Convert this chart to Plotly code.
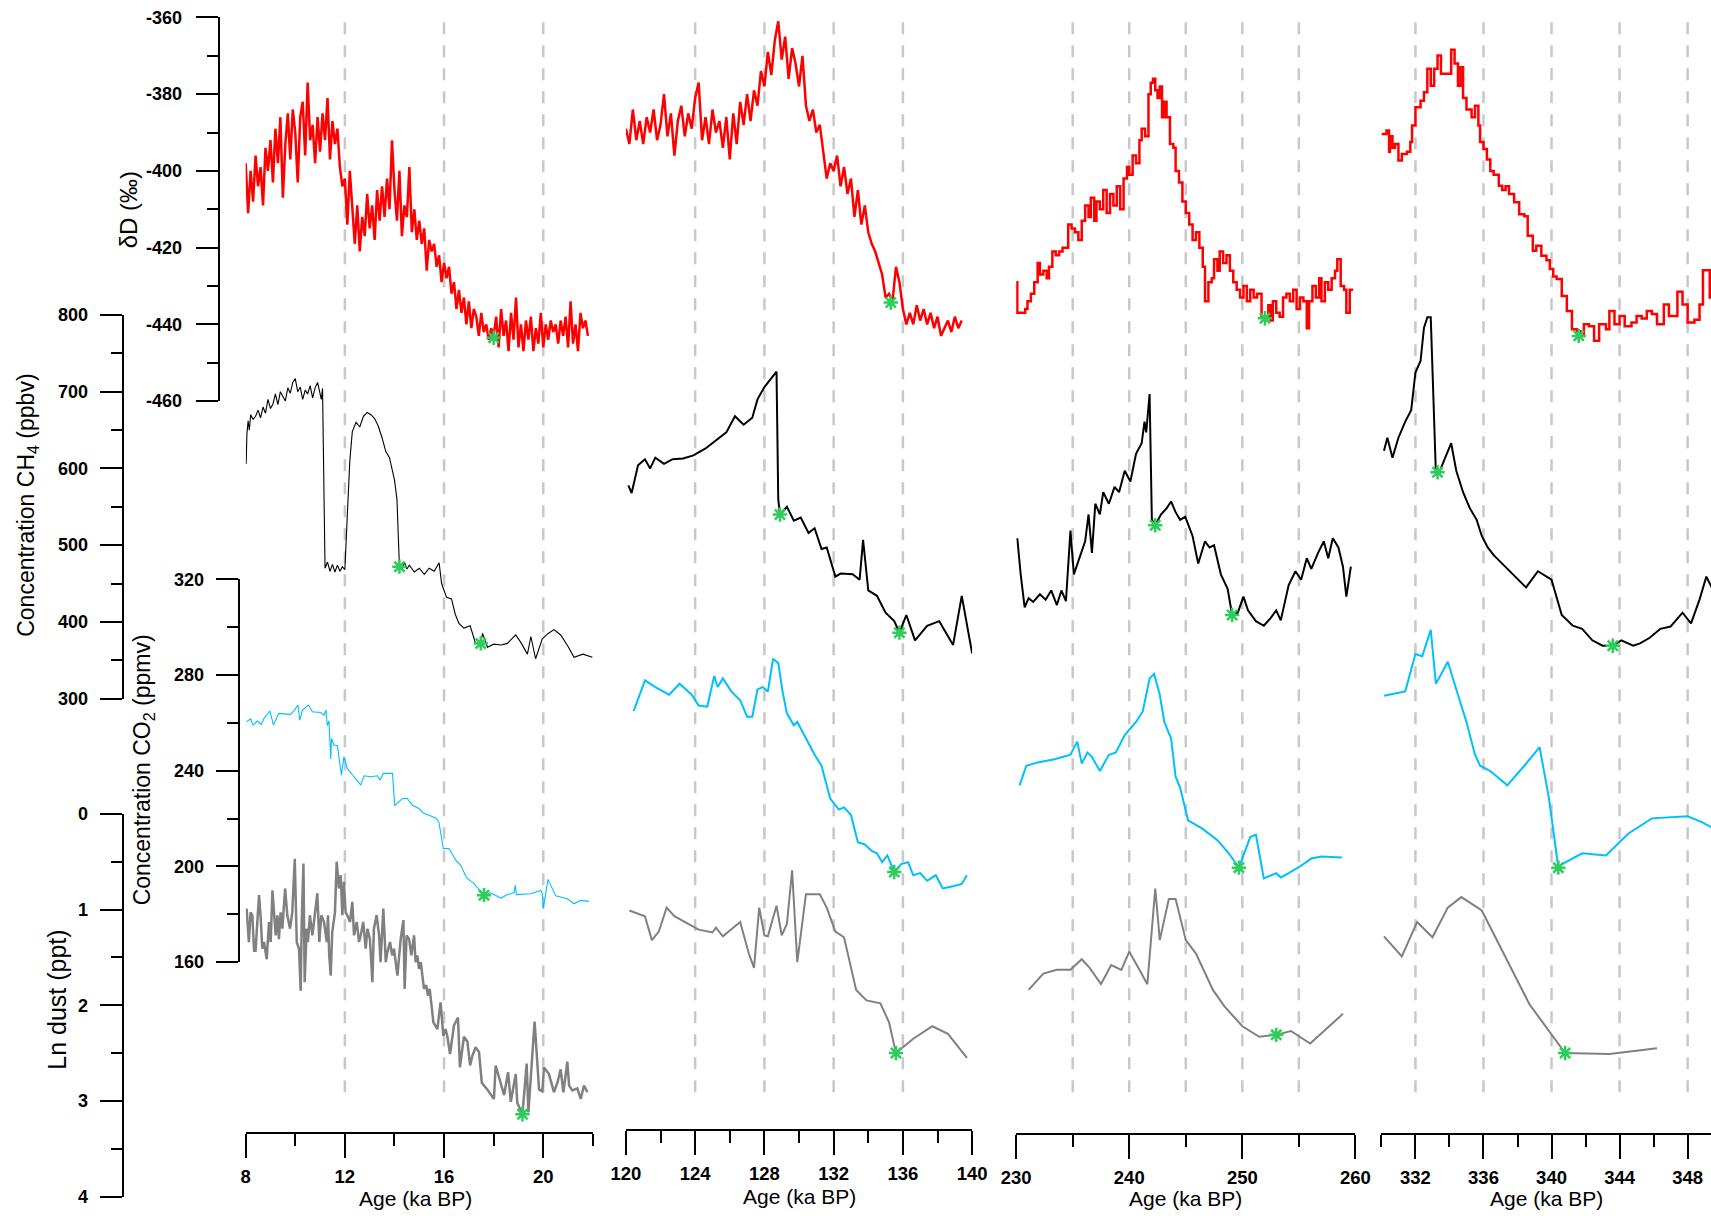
import plotly.graph_objects as go

# target layout is described in page pixels (1711 x 1218); the figure itself is
# laid out on a slightly larger canvas that the page then fits into that frame
PAGE_W, PAGE_H = 1711, 1218
FIT = 0.982
OFF_X, OFF_Y = 14.5, 9.6
W, H = 1730, 1233

# ---------------- deuterium (δD, ‰) ----------------
dd1_age = [8.0, 8.1, 8.2, 8.3, 8.4, 8.5, 8.6, 8.7, 8.8, 8.9,
           9.0, 9.1, 9.2, 9.3, 9.4, 9.5, 9.6, 9.7, 9.8, 9.9,
           10.0, 10.1, 10.2, 10.3, 10.4, 10.5, 10.6, 10.7, 10.8, 10.9,
           11.0, 11.1, 11.2, 11.3, 11.4, 11.5, 11.6, 11.7, 11.8, 11.9,
           12.0, 12.1, 12.2, 12.3, 12.4, 12.5, 12.6, 12.7, 12.8, 12.9,
           13.0, 13.1, 13.2, 13.3, 13.4, 13.5, 13.6, 13.7, 13.8, 13.9,
           14.0, 14.1, 14.2, 14.3, 14.4, 14.5, 14.6, 14.7, 14.8, 14.9,
           15.0, 15.1, 15.2, 15.3, 15.4, 15.5, 15.6, 15.7, 15.8, 15.9,
           16.0, 16.1, 16.2, 16.3, 16.4, 16.5, 16.6, 16.7, 16.8, 16.9,
           17.0, 17.1, 17.2, 17.3, 17.4, 17.5, 17.6, 17.7, 17.8, 17.9,
           18.0, 18.1, 18.2, 18.3, 18.4, 18.5, 18.6, 18.7, 18.8, 18.9,
           19.0, 19.1, 19.2, 19.3, 19.4, 19.5, 19.6, 19.7, 19.8, 19.9,
           20.0, 20.1, 20.2, 20.3, 20.4, 20.5, 20.6, 20.7, 20.8, 20.9,
           21.0, 21.1, 21.2, 21.3, 21.4, 21.5, 21.6, 21.7, 21.8]
dd1_val = [-398, -411, -400, -408, -396, -404, -399, -409, -394, -400,
           -392, -403, -389, -398, -386, -407, -393, -385, -397, -384,
           -390, -403, -386, -382, -396, -377, -392, -388, -398, -386,
           -395, -385, -392, -381, -397, -387, -393, -389, -399, -404,
           -402, -414, -400, -411, -419, -409, -421, -412, -417, -406,
           -415, -409, -418, -405, -413, -404, -412, -402, -410, -392,
           -405, -413, -400, -417, -409, -412, -399, -416, -410, -418,
           -413, -419, -415, -426, -418, -421, -419, -425, -422, -429,
           -424, -428, -425, -432, -429, -436, -431, -437, -433, -440,
           -434, -441, -436, -438, -443, -437, -442, -440, -444, -441,
           -443, -438, -446, -436, -443, -439, -447, -437, -444, -433,
           -446, -440, -447, -439, -444, -438, -447, -441, -445, -437,
           -446, -440, -444, -439, -442, -440, -445, -439, -443, -438,
           -446, -434, -445, -440, -447, -437, -441, -439, -443]

dd2_age = [120.0, 120.2, 120.4, 120.6, 120.8, 121.0, 121.2, 121.4, 121.6, 121.8,
           122.0, 122.2, 122.4, 122.6, 122.8, 123.0, 123.2, 123.4, 123.6, 123.8,
           124.0, 124.2, 124.4, 124.6, 124.8, 125.0, 125.2, 125.4, 125.6, 125.8,
           126.0, 126.2, 126.4, 126.6, 126.8, 127.0, 127.2, 127.4, 127.6, 127.8,
           128.0, 128.2, 128.4, 128.6, 128.8, 129.0, 129.2, 129.4, 129.6, 129.8,
           130.0, 130.2, 130.4, 130.6, 130.8, 131.0, 131.2, 131.4, 131.6, 131.8,
           132.0, 132.2, 132.4, 132.6, 132.8, 133.0, 133.2, 133.4, 133.6, 133.8,
           134.0, 134.2, 134.4, 134.6, 134.8, 135.0, 135.2, 135.4, 135.6, 135.8,
           136.0, 136.2, 136.4, 136.6, 136.8, 137.0, 137.2, 137.4, 137.6, 137.8,
           138.0, 138.2, 138.4, 138.6, 138.8, 139.0, 139.2, 139.4]
dd2_val = [-389, -393, -384, -392, -387, -393, -386, -390, -384, -392,
           -388, -380, -391, -385, -396, -387, -383, -391, -385, -389,
           -381, -377, -392, -386, -393, -384, -390, -387, -394, -386,
           -397, -385, -393, -382, -388, -380, -387, -379, -383, -374,
           -378, -369, -375, -366, -361, -371, -365, -376, -368, -372,
           -378, -370, -383, -387, -384, -390, -388, -395, -402, -398,
           -400, -396, -404, -399, -406, -402, -412, -405, -414, -409,
           -416, -419, -421, -424, -427, -433, -432, -434, -425, -429,
           -436, -440, -437, -440, -435, -439, -436, -440, -437, -441,
           -438, -443, -441, -439, -442, -438, -441, -439]

dd3_age = [230.0, 230.1, 230.5, 230.8, 231.0, 231.3, 231.6, 231.9, 232.1, 232.4,
           232.7, 232.9, 233.2, 233.5, 233.8, 234.1, 234.4, 234.6, 234.9, 235.2,
           235.5, 235.8, 236.1, 236.4, 236.6, 236.9, 237.1, 237.4, 237.7, 238.0,
           238.3, 238.6, 238.9, 239.2, 239.5, 239.8, 240.0, 240.3, 240.6, 240.9,
           241.1, 241.4, 241.7, 241.9, 242.1, 242.3, 242.5, 242.7, 242.9, 243.1,
           243.3, 243.6, 243.9, 244.1, 244.4, 244.7, 245.0, 245.3, 245.6, 245.9,
           246.2, 246.5, 246.7, 247.0, 247.3, 247.5, 247.8, 248.0, 248.3, 248.6,
           248.9, 249.2, 249.5, 249.8, 250.1, 250.4, 250.7, 251.0, 251.3, 251.7,
           252.0, 252.3, 252.5, 252.7, 253.0, 253.3, 253.6, 253.9, 254.2, 254.5,
           254.8, 255.1, 255.4, 255.7, 255.9, 256.2, 256.5, 256.8, 257.0, 257.3,
           257.6, 257.9, 258.2, 258.4, 258.7, 259.0, 259.2, 259.5, 259.8]
dd3_val = [-429, -437, -437, -436, -434, -432, -429, -424, -427, -426,
           -428, -425, -421, -422, -421, -420, -420, -414, -415, -416,
           -418, -413, -409, -412, -407, -413, -408, -410, -405, -411,
           -406, -409, -404, -410, -402, -399, -401, -396, -398, -392,
           -389, -391, -380, -377, -376, -379, -381, -378, -386, -382,
           -386, -393, -394, -400, -403, -408, -411, -414, -418, -416,
           -420, -425, -434, -429, -428, -423, -426, -421, -424, -422,
           -426, -429, -431, -433, -430, -434, -431, -433, -432, -438,
           -438, -435, -439, -434, -437, -438, -433, -432, -434, -431,
           -436, -433, -434, -441, -434, -430, -433, -428, -434, -429,
           -431, -428, -426, -423, -430, -431, -437, -431, -431]

dd4_age = [330.0, 330.3, 330.45, 330.5, 330.65, 330.8, 331.0, 331.2, 331.5, 331.7,
           331.8, 332.0, 332.3, 332.5, 332.7, 332.9, 333.1, 333.3, 333.5, 333.8,
           334.1, 334.3, 334.5, 334.65, 334.8, 335.0, 335.3, 335.5, 335.7, 335.8,
           336.0, 336.2, 336.4, 336.6, 336.9, 337.1, 337.3, 337.5, 337.8, 338.1,
           338.4, 338.6, 338.9, 339.1, 339.4, 339.7, 339.9, 340.1, 340.3, 340.6,
           340.9, 341.2, 341.5, 341.7, 341.9, 342.2, 342.5, 342.8, 343.2, 343.4,
           343.7, 344.0, 344.3, 344.7, 345.0, 345.3, 345.6, 345.9, 346.2, 346.6,
           346.9, 347.4, 347.7, 348.0, 348.4, 348.7, 348.9, 349.3, 349.6]
dd4_val = [-390.4, -389.5, -395.0, -391.0, -394.0, -393.0, -397.3, -395.6, -395.0, -392.5,
           -388.2, -383.4, -381.7, -379.5, -373.4, -377.8, -373.4, -369.9, -374.7, -374.7,
           -368.4, -372.0, -377.8, -373.0, -381.0, -384.0, -386.0, -383.0, -388.2, -392.5,
           -394.3, -397.0, -400.0, -401.0, -403.9, -405.0, -404.0, -406.0, -408.2, -411.3,
           -411.8, -416.9, -420.8, -419.5, -422.1, -423.3, -425.6, -427.5, -428.2, -432.6,
           -436.5, -441.3, -441.8, -443.0, -440.0, -440.5, -444.3, -440.0, -441.3, -436.5,
           -440.0, -437.8, -440.5, -439.5, -437.8, -438.5, -436.5, -437.3, -440.0, -434.8,
           -437.8, -431.5, -434.8, -439.5, -438.8, -434.8, -425.9, -433.0, -433.0]

# ---------------- methane (ppbv) ----------------
ch1_age = [8.02, 8.05, 8.1, 8.15, 8.2, 8.3, 8.4, 8.5, 8.6, 8.7, 8.8, 8.9, 9.0, 9.1, 9.2,
           9.3, 9.4, 9.5, 9.6, 9.7, 9.8, 9.9, 10.0, 10.1, 10.2, 10.3, 10.4, 10.5, 10.6,
           10.7, 10.8, 10.9, 11.0, 11.05, 11.1, 11.15, 11.2, 11.3, 11.4, 11.5, 11.6, 11.7,
           11.8, 11.9, 12.0, 12.1, 12.2, 12.3, 12.45, 12.6, 12.75, 12.9, 13.05, 13.2, 13.35,
           13.5, 13.65, 13.8, 13.9, 14.0, 14.1, 14.2, 14.3, 14.4, 14.5, 14.6, 14.8, 15.0,
           15.2, 15.4, 15.6, 15.8, 15.9, 16.0, 16.1, 16.3, 16.45, 16.6, 16.8, 17.05, 17.27,
           17.48, 17.55, 17.75, 18.0, 18.3, 18.55, 18.89, 19.1, 19.36, 19.5, 19.69, 19.96,
           20.2, 20.43, 20.7, 21.0, 21.24, 21.6, 21.98]
ch1_val = [606, 645, 662, 650, 670, 664, 668, 676, 666, 680, 672, 690, 678, 684, 697,
           683, 700, 694, 688, 705, 698, 712, 717, 700, 706, 690, 702, 697, 708,
           692, 705, 712, 698, 690, 704, 560, 470, 478, 466, 475, 465, 474,
           466, 472, 468, 540, 610, 648, 660, 654, 668, 673, 670, 665, 655,
           640, 622, 614, 600, 585, 560, 472, 468, 478, 469, 474, 465, 470,
           462, 470, 466, 477, 450, 440, 432, 430, 410, 398, 392, 395, 372,
           372, 385, 367, 371, 370, 372, 383, 373, 358, 381, 352, 378,
           385, 390, 383, 368, 354, 358, 354]

ch2_age = [120.14, 120.33, 120.7, 121.1, 121.4, 121.7, 122.2, 122.7, 123.3, 123.9,
           124.6, 125.2, 125.8, 126.3, 126.8, 127.3, 127.6, 128.0, 128.4, 128.7,
           128.8, 128.9, 129.3, 129.7, 130.1, 130.55, 130.9, 131.3, 131.6, 132.1,
           132.4, 133.1, 133.5, 133.7, 134.0, 134.5, 135.0, 135.5, 135.8, 136.2,
           136.7, 137.4, 138.1, 138.9, 139.4, 140.0]
ch2_val = [578, 568, 604, 612, 600, 614, 606, 612, 613, 617,
           626, 636, 647, 668, 657, 666, 690, 706, 718, 726,
           560, 540, 550, 532, 536, 516, 522, 495, 497, 459,
           463, 462, 455, 507, 441, 434, 412, 401, 386, 409,
           376, 395, 401, 370, 434, 359]

ch3_age = [230.1, 230.4, 230.75, 231.1, 231.5, 232.1, 232.6, 233.1, 233.6, 234.0,
           234.4, 234.8, 235.1, 235.6, 236.1, 236.4, 236.7, 237.0, 237.4, 237.7,
           238.2, 238.7, 239.1, 239.6, 240.1, 240.6, 241.1, 241.35, 241.5, 241.8,
           242.0, 242.3, 242.8, 243.3, 243.7, 244.1, 244.5, 244.95, 245.6, 246.1,
           246.7, 247.1, 247.5, 248.1, 248.7, 249.1, 249.6, 250.1, 250.5, 251.2,
           251.9, 252.5, 253.0, 253.4, 254.1, 254.7, 255.2, 255.7, 256.1, 256.7,
           257.2, 257.6, 258.0, 258.5, 258.9, 259.2, 259.6]
ch3_val = [509, 462, 419, 431, 426, 436, 429, 441, 422, 441,
           427, 519, 462, 483, 505, 540, 490, 554, 540, 569,
           554, 576, 569, 597, 583, 619, 633, 661, 647, 697,
           533, 526, 540, 548, 557, 543, 533, 537, 512, 476,
           505, 497, 500, 462, 443, 409, 412, 433, 415, 401,
           395, 405, 415, 402, 448, 466, 455, 483, 469, 490,
           505, 483, 509, 497, 472, 433, 472]

ch4_age = [330.15, 330.35, 330.65, 331.0, 331.4, 331.75, 332.0, 332.3, 332.5, 332.7,
           332.9, 333.2, 333.4, 333.7, 334.1, 334.4, 334.8, 335.2, 335.6, 335.9,
           336.25, 336.6, 337.1, 337.5, 338.0, 338.5, 339.2, 340.0, 340.6, 341.25,
           341.8, 342.4, 343.0, 343.6, 344.1, 344.8, 345.2, 345.75, 346.4, 347.0,
           347.7, 348.2, 348.7, 349.1, 349.5]
ch4_val = [623, 640, 614, 640, 661, 676, 725, 740, 783, 797,
           797, 595, 595, 612, 633, 597, 569, 548, 533, 512,
           497, 487, 476, 466, 455, 445, 466, 455, 409, 395,
           391, 376, 369, 369, 376, 369, 372, 379, 391, 394,
           412, 398, 429, 459, 441]

# ---------------- carbon dioxide (ppmv) ----------------
co1_age = [8.04, 8.2, 8.3, 8.47, 8.63, 8.74, 8.98, 9.12, 9.34, 9.81, 9.95, 10.11,
           10.18, 10.29, 10.53, 10.69, 11.02, 11.16, 11.24, 11.29, 11.36, 11.43,
           11.46, 11.56, 11.7, 11.76, 11.86, 11.96, 12.1, 12.37, 12.64, 12.77,
           13.04, 13.31, 13.42, 13.55, 13.92, 14.01, 14.32, 14.52, 14.72, 14.99,
           15.19, 15.39, 15.66, 15.79, 15.97, 16.2, 16.47, 16.67, 16.91, 17.21,
           17.61, 17.88, 18.28, 18.55, 18.82, 18.87, 18.92, 19.49, 19.9, 19.96,
           20.0, 20.19, 20.5, 20.97, 21.24, 21.51, 21.84]
co1_val = [260.5, 261.7, 259.1, 260.8, 259.4, 261.9, 265.0, 259.1, 264.0, 263.6, 265.0, 267.5,
           261.2, 265.4, 267.5, 264.7, 264.4, 263.3, 265.4, 258.9, 260.8, 244.9,
           253.5, 250.8, 250.5, 246.6, 238.2, 245.9, 241.0, 237.5, 234.0, 237.9,
           237.5, 237.9, 236.1, 238.9, 238.9, 225.4, 228.4, 228.4, 225.6, 224.2,
           222.1, 221.4, 220.3, 218.6, 207.5, 207.5, 202.6, 200.5, 195.2, 192.8,
           188.0, 189.0, 186.8, 188.2, 189.0, 192.1, 188.2, 188.6, 190.0, 188.6,
           182.4, 194.6, 187.7, 186.5, 184.4, 185.8, 185.4]

co2_age = [120.45, 121.1, 121.7, 122.5, 123.1, 123.8, 124.2, 124.7, 125.1, 125.3,
           125.6, 126.1, 126.6, 127.0, 127.3, 127.6, 127.9, 128.2, 128.5, 128.8,
           129.05, 129.3, 129.7, 129.9, 130.9, 131.3, 131.8, 132.3, 132.6, 133.0,
           133.4, 133.8, 134.2, 134.5, 134.8, 135.1, 135.5, 135.9, 136.3, 136.6,
           137.0, 137.4, 137.9, 138.3, 138.9, 139.4, 139.7]
co2_val = [265.0, 277.8, 275.0, 271.8, 276.4, 271.8, 267.3, 266.8, 279.6, 275.0,
           278.6, 273.1, 269.5, 262.6, 262.6, 274.0, 275.0, 273.1, 286.8, 285.0,
           273.1, 264.0, 259.0, 260.4, 246.7, 242.1, 228.4, 223.8, 224.7, 221.5,
           210.1, 209.2, 206.5, 205.5, 201.8, 204.6, 197.7, 201.0, 201.8, 196.3,
           197.2, 194.0, 196.3, 190.8, 191.7, 192.7, 196.3]

co3_age = [230.3, 230.9, 231.9, 233.4, 234.8, 235.4, 235.8, 236.3, 236.7, 237.4,
           238.2, 238.8, 239.6, 240.6, 241.2, 241.8, 242.2, 242.7, 243.1, 243.7,
           244.1, 244.5, 245.2, 246.4, 247.8, 248.8, 249.7, 250.7, 251.2, 251.9,
           253.0, 253.4, 254.1, 255.1, 256.1, 257.0, 258.8]
co3_val = [233.9, 242.1, 243.5, 244.8, 246.7, 252.2, 243.0, 247.6, 245.8, 239.9,
           246.7, 247.6, 254.9, 260.4, 264.9, 278.6, 280.5, 271.8, 260.4, 253.5,
           237.5, 233.0, 219.3, 216.0, 211.0, 205.5, 199.5, 212.3, 213.3, 195.0,
           197.2, 195.4, 197.2, 200.0, 203.3, 204.2, 203.7]

co4_age = [330.15, 331.4, 332.0, 332.4, 332.9, 333.2, 333.55, 333.9, 334.5, 335.0,
           335.5, 335.8, 336.4, 337.4, 338.4, 339.3, 339.85, 340.4, 340.6, 341.8,
           343.2, 344.5, 345.9, 348.0, 348.9, 349.5]
co4_val = [271.4, 273.2, 288.8, 287.9, 298.9, 276.4, 280.9, 285.6, 271.8, 260.4,
           246.7, 242.1, 239.9, 233.9, 242.1, 249.9, 228.4, 199.5, 200.9, 205.5,
           204.6, 213.7, 220.1, 221.0, 218.3, 216.0]

# ---------------- dust (ln ppt) ----------------
du1_age = [8.04, 8.07, 8.13, 8.2, 8.27, 8.34, 8.4, 8.47, 8.54, 8.6, 8.67, 8.74, 8.85,
           8.94, 9.01, 9.08, 9.14, 9.21, 9.28, 9.34, 9.41, 9.48, 9.59, 9.68, 9.79,
           9.88, 9.98, 10.06, 10.15, 10.22, 10.26, 10.33, 10.38, 10.46, 10.51, 10.59,
           10.69, 10.78, 10.89, 10.97, 11.05, 11.16, 11.27, 11.32, 11.37, 11.43,
           11.49, 11.6, 11.67, 11.76, 11.83, 11.9, 11.96, 12.03, 12.1, 12.21, 12.3,
           12.37, 12.48, 12.57, 12.64, 12.74, 12.84, 12.91, 13.01, 13.11, 13.17,
           13.28, 13.38, 13.44, 13.55, 13.65, 13.71, 13.82, 13.91, 13.98, 14.12,
           14.25, 14.36, 14.41, 14.49, 14.59, 14.68, 14.79, 14.85, 14.92, 14.99,
           15.06, 15.12, 15.19, 15.28, 15.35, 15.42, 15.49, 15.57, 15.73, 15.86,
           15.97, 16.06, 16.13, 16.24, 16.4, 16.56, 16.64, 16.8, 16.94, 17.05,
           17.14, 17.27, 17.41, 17.52, 17.74, 18.01, 18.08, 18.28, 18.42, 18.58,
           18.69, 18.89, 18.95, 19.16, 19.33, 19.4, 19.65, 19.83, 19.96, 20.03,
           20.23, 20.43, 20.57, 20.7, 20.81, 20.97, 21.04, 21.17, 21.37, 21.51,
           21.64, 21.78]
du1_val = [0.99, 1.15, 1.34, 1.03, 1.06, 1.43, 1.43, 1.13, 0.85, 1.06, 1.41, 1.34, 1.52,
           1.13, 1.34, 0.80, 1.06, 1.27, 1.06, 1.31, 1.03, 1.20, 0.78, 1.06, 1.20,
           1.03, 0.47, 1.34, 1.41, 1.85, 1.13, 0.52, 1.76, 1.20, 1.34, 1.06,
           1.27, 1.06, 0.83, 1.34, 1.06, 1.13, 1.34, 1.06, 1.48, 1.69,
           1.24, 1.03, 0.50, 0.78, 0.64, 1.06, 0.71, 1.03, 1.06, 1.13, 0.92,
           1.27, 1.13, 1.34, 1.27, 1.13, 1.41, 1.20, 1.31, 1.76, 1.20,
           1.06, 1.27, 1.55, 0.99, 1.55, 1.45, 1.34, 1.48, 1.41, 1.69,
           1.31, 1.11, 1.83, 1.27, 1.31, 1.48, 1.27, 1.55, 1.48, 1.62,
           1.55, 1.69, 1.83, 1.79, 1.90, 1.83, 1.97, 2.18, 2.25, 1.97,
           2.32, 2.25, 2.32, 2.51, 2.21, 2.13, 2.65, 2.33, 2.38, 2.63,
           2.53, 2.44, 2.49, 2.81, 2.88, 2.98, 2.63, 2.81, 2.94, 2.70,
           3.01, 2.72, 3.02, 3.14, 2.61, 3.12, 2.17, 2.88, 2.90, 2.65,
           2.72, 2.91, 2.81, 2.67, 2.91, 2.59, 2.84, 2.89, 2.87, 2.98,
           2.84, 2.91]

du2_age = [120.2, 121.1, 121.5, 121.9, 122.35, 122.8, 123.6, 124.2, 125.0, 125.2,
           125.6, 126.6, 127.1, 127.4, 127.7, 128.0, 128.2, 128.7, 129.0, 129.3,
           129.6, 129.9, 130.4, 131.2, 131.6, 132.1, 132.6, 133.3, 133.9, 134.7,
           135.2, 135.6, 136.6, 137.7, 138.6, 139.7]
du2_val = [1.01, 1.07, 1.32, 1.23, 0.98, 1.07, 1.15, 1.21, 1.24, 1.19,
           1.28, 1.13, 1.46, 1.61, 0.98, 1.27, 1.28, 0.96, 1.27, 1.15,
           0.59, 1.55, 0.84, 0.84, 0.98, 1.23, 1.29, 1.84, 1.95, 1.98,
           2.18, 2.50, 2.35, 2.22, 2.30, 2.55]

du3_age = [231.1, 232.4, 233.6, 234.8, 235.8, 236.5, 237.5, 238.4, 239.3, 240.0,
           240.9, 241.6, 242.3, 242.7, 243.5, 244.1, 245.0, 245.9, 247.4, 248.4,
           250.0, 251.5, 253.0, 254.3, 256.0, 258.9]
du3_val = [1.84, 1.67, 1.63, 1.63, 1.52, 1.61, 1.78, 1.58, 1.63, 1.44,
           1.63, 1.78, 0.78, 1.32, 0.89, 0.89, 1.32, 1.46, 1.84, 2.01,
           2.22, 2.33, 2.31, 2.27, 2.40, 2.09]

du4_age = [330.15, 331.2, 332.1, 333.0, 333.9, 334.7, 335.9, 338.7, 340.8, 343.4, 346.2]
du4_val = [1.28, 1.49, 1.13, 1.29, 0.98, 0.87, 1.01, 1.99, 2.50, 2.51, 2.45]

# ---------------- tie points (green asterisks) ----------------
tie_dd_age = [[18.0], [135.3], [252.0], [341.6]]
tie_dd_val = [[-443.5], [-434.3], [-438.4], [-443.0]]
tie_ch_age = [[14.2, 17.48], [128.9, 135.8], [242.3, 249.1], [333.3, 343.6]]
tie_ch_val = [[472, 372], [540, 386], [526, 409], [595, 369]]
tie_co_age = [[17.61], [135.5], [249.7], [340.4]]
tie_co_val = [[188.0], [197.7], [199.5], [199.5]]
tie_du_age = [[19.16], [135.6], [253.0], [340.8]]
tie_du_val = [[3.14], [2.50], [2.31], [2.50]]

# dashed reference ages in each window
guide_ages = [[12, 16, 20], [124, 128, 132, 136],
              [235, 240, 245, 250, 255], [332, 336, 340, 344, 348]]

# δD tick labels (plain hyphen minus)
dd_tickvals = [-460, -440, -420, -400, -380, -360]
dd_ticktext = ["-460", "-440", "-420", "-400", "-380", "-360"]

# ---------------- figure ----------------
RED, BLACK, CYAN, GREY, GREEN = "#ff0000", "#000000", "#00bfff", "#808080", "#2ecc5a"
FONT = "Liberation Sans, Arial, sans-serif"

fig = go.Figure()
xs = ["x", "x2", "x3", "x4"]


def line(x, y, xa, ya, color, width, shape="linear"):
    fig.add_trace(go.Scatter(x=x, y=y, xaxis=xa, yaxis=ya, mode="lines",
                             line=dict(color=color, width=width, shape=shape),
                             showlegend=False, hoverinfo="skip"))


dd_series = [(dd1_age, dd1_val), (dd2_age, dd2_val), (dd3_age, dd3_val), (dd4_age, dd4_val)]
ch_series = [(ch1_age, ch1_val), (ch2_age, ch2_val), (ch3_age, ch3_val), (ch4_age, ch4_val)]
co_series = [(co1_age, co1_val), (co2_age, co2_val), (co3_age, co3_val), (co4_age, co4_val)]
du_series = [(du1_age, du1_val), (du2_age, du2_val), (du3_age, du3_val), (du4_age, du4_val)]

for i, xa in enumerate(xs):
    thin = i == 0
    # dense records drawn as a zig-zag, coarse ones as steps
    line(*dd_series[i], xa, "y", RED, 2.5, "linear" if i < 2 else "hv")
    line(*ch_series[i], xa, "y2", BLACK, 1.1 if thin else 2.0)
    line(*co_series[i], xa, "y3", CYAN, 1.1 if thin else 2.0)
    line(*du_series[i], xa, "y4", GREY, 2.5 if thin else 2.0)

for i, xa in enumerate(xs):
    for ages, vals, ya in [(tie_dd_age[i], tie_dd_val[i], "y"),
                           (tie_ch_age[i], tie_ch_val[i], "y2"),
                           (tie_co_age[i], tie_co_val[i], "y3"),
                           (tie_du_age[i], tie_du_val[i], "y4")]:
        fig.add_trace(go.Scatter(x=ages, y=vals, xaxis=xa, yaxis=ya, mode="markers",
                                 marker=dict(symbol="asterisk-open", size=12, color=GREEN,
                                             line=dict(color=GREEN, width=2.5)),
                                 cliponaxis=False, showlegend=False, hoverinfo="skip"))


# page pixel -> paper fraction
def px_x(p):
    return ((p - OFF_X) / FIT) / W


def px_y(p):
    return 1 - ((p - OFF_Y) / FIT) / H


tickfont_x = dict(family=FONT, size=18.5, color="black", weight="bold")
tickfont_y = dict(family=FONT, size=18, color="black", weight="bold")


def xaxis(left, right, rng, axis_y, dtick, mdtick):
    return dict(domain=[px_x(left), px_x(right)], range=rng, anchor="free",
                position=px_y(axis_y), showline=True, linecolor="black", linewidth=2,
                ticks="outside", ticklen=24, tickwidth=2, tickcolor="black",
                tick0=0, dtick=dtick, tickfont=tickfont_x, ticklabelstandoff=2,
                minor=dict(dtick=mdtick, tick0=0, ticks="outside", ticklen=12,
                           tickwidth=2, tickcolor="black", showgrid=False),
                showgrid=False, zeroline=False, fixedrange=True)


def yaxis(top, bottom, rng, axis_x, dtick, mdtick, standoff):
    return dict(domain=[px_y(bottom), px_y(top)], range=rng, anchor="free",
                position=px_x(axis_x), side="left", showline=True, linecolor="black",
                linewidth=2, ticks="outside", ticklen=22, tickwidth=2, tickcolor="black",
                tick0=0, dtick=dtick, tickfont=tickfont_y, ticklabelstandoff=standoff,
                minor=dict(dtick=mdtick, tick0=0, ticks="outside", ticklen=11,
                           tickwidth=2, tickcolor="black", showgrid=False),
                showgrid=False, zeroline=False, fixedrange=True)


panel_right_4 = PAGE_W
yax_dd = yaxis(17, 400, [-460, -360], 218, 20, 10, 10)
yax_dd.update(tickmode="array", tickvals=dd_tickvals, ticktext=dd_ticktext)

fig.update_layout(
    width=W, height=H, margin=dict(l=0, r=0, t=0, b=0),
    paper_bgcolor="white", plot_bgcolor="rgba(0,0,0,0)",
    xaxis=xaxis(245, 592, [8, 22], 1131, 4, 2),
    xaxis2=xaxis(625, 971, [120, 140], 1128, 4, 2),
    xaxis3=xaxis(1015, 1354, [230, 260], 1132, 10, 5),
    xaxis4=xaxis(1380, panel_right_4, [330, 330 + (panel_right_4 - 1380) / 17.0], 1132, 4, 2),
    yaxis=yax_dd,
    yaxis2=yaxis(314, 697, [300, 800], 122, 100, 50, 8),
    yaxis3=yaxis(578, 960, [160, 320], 238, 40, 20, 8),
    yaxis4=yaxis(812, 1194, [4, 0], 122, 1, 0.5, 8),
)

shapes = []
for i, xa in enumerate(xs):
    for a in guide_ages[i]:
        shapes.append(dict(type="line", xref=xa, yref="paper", x0=a, x1=a,
                           y0=px_y(1090), y1=px_y(15), layer="below",
                           line=dict(color="#c8c8c8", width=2.5, dash="12px,11px")))
fig.update_layout(shapes=shapes)


def title_font(size):
    return dict(family=FONT, size=size, color="black")


annotations = [
    dict(text="δD (‰)", x=px_x(128), y=px_y(209), textangle=-90, font=title_font(24)),
    dict(text="Concentration CH<sub>4</sub> (ppbv)", x=px_x(27), y=px_y(504),
         textangle=-90, font=title_font(23)),
    dict(text="Concentration CO<sub>2</sub> (ppmv)", x=px_x(143), y=px_y(768),
         textangle=-90, font=title_font(23)),
    dict(text="Ln dust (ppt)", x=px_x(57), y=px_y(998), textangle=-90, font=title_font(25)),
    dict(text="Age (ka BP)", x=px_x(415), y=px_y(1196), font=title_font(21)),
    dict(text="Age (ka BP)", x=px_x(798), y=px_y(1194), font=title_font(21)),
    dict(text="Age (ka BP)", x=px_x(1184), y=px_y(1196), font=title_font(21)),
    dict(text="Age (ka BP)", x=px_x(1545), y=px_y(1196), font=title_font(21)),
]
for a in annotations:
    a.update(xref="paper", yref="paper", showarrow=False, xanchor="center",
             yanchor="middle")
fig.update_layout(annotations=annotations)

fig.write_html("out.html")
